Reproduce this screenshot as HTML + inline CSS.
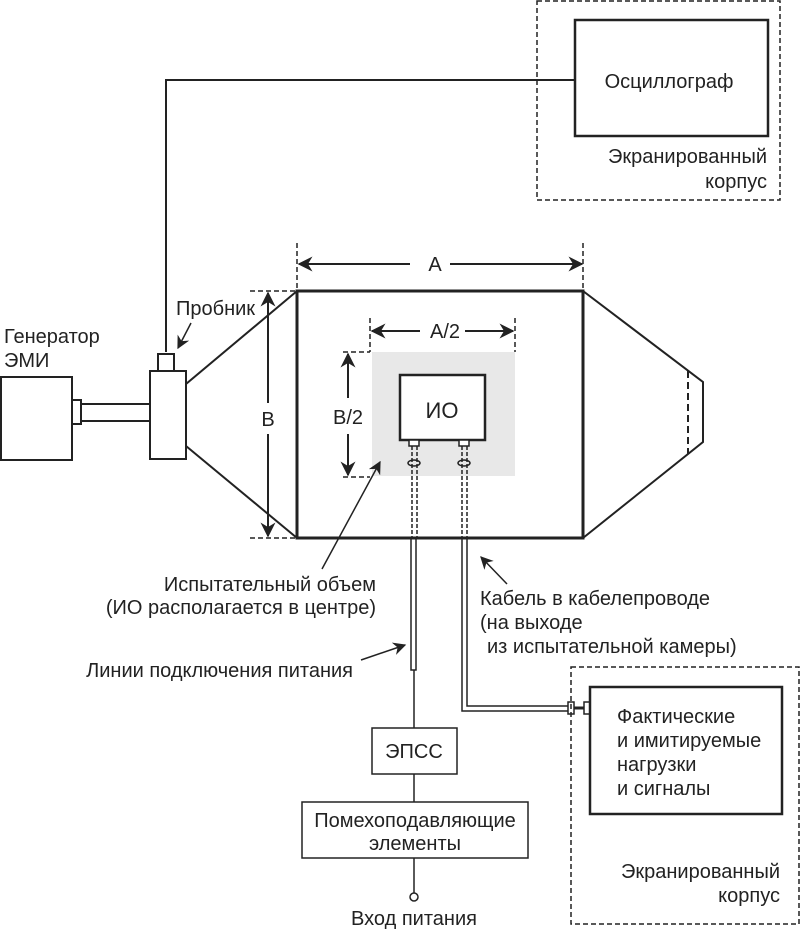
<!DOCTYPE html>
<html><head><meta charset="utf-8"><style>
html,body{margin:0;padding:0;background:#fff;}
svg{display:block;}
text{font-family:"Liberation Sans",sans-serif;font-size:20px;fill:#222;}
</style></head><body>
<svg width="800" height="929" viewBox="0 0 800 929" xmlns="http://www.w3.org/2000/svg">
<defs>
<marker id="ar" viewBox="0 0 10 10" refX="9" refY="5" markerWidth="13" markerHeight="13" orient="auto-start-reverse" markerUnits="userSpaceOnUse">
<path d="M0,0 L10,5 L0,10 L3,5 z" fill="#222"/></marker>
<marker id="ar2" viewBox="0 0 10 10" refX="9" refY="5" markerWidth="15" markerHeight="15" orient="auto-start-reverse" markerUnits="userSpaceOnUse">
<path d="M0,0 L10,5 L0,10 L3,5 z" fill="#222"/></marker>
</defs>
<g stroke="#222" fill="none" stroke-width="2">
<rect x="537" y="1" width="243" height="199" stroke-dasharray="5,3" stroke-width="1.5"/>
<rect x="575" y="20" width="193" height="116" stroke-width="2.5"/>
<polyline points="166,352 166,80 575,80"/>
<rect x="1" y="377" width="71" height="83"/>
<rect x="72" y="400" width="9" height="24"/>
<rect x="81" y="404" width="69" height="17"/>
<rect x="150" y="371" width="36" height="88"/>
<rect x="158" y="354" width="16" height="17"/>
<line x1="186" y1="384" x2="297" y2="291"/>
<line x1="186" y1="446" x2="297" y2="538"/>
<rect x="297" y="291" width="286" height="247" stroke-width="3"/>
<polyline points="583,291 703,382 703,442 583,538"/>
<line x1="688" y1="371" x2="688" y2="454" stroke-dasharray="7,4"/>
<g stroke-width="1.5" stroke-dasharray="5,3">
<line x1="297" y1="243" x2="297" y2="291"/>
<line x1="583" y1="243" x2="583" y2="291"/>
<line x1="250" y1="291" x2="297" y2="291"/>
<line x1="250" y1="538" x2="297" y2="538"/>
<line x1="370" y1="318" x2="370" y2="352"/>
<line x1="515" y1="318" x2="515" y2="352"/>
<line x1="343" y1="352" x2="370" y2="352"/>
<line x1="343" y1="477" x2="370" y2="477"/>
</g>
</g>
<rect x="372" y="352" width="143" height="124" fill="#e8e8e8"/>
<g stroke="#222" fill="none" stroke-width="2">
<line x1="299" y1="264" x2="410" y2="264" marker-start="url(#ar2)"/>
<line x1="450" y1="264" x2="582" y2="264" marker-end="url(#ar2)"/>
<line x1="268" y1="293" x2="268" y2="403" marker-start="url(#ar2)"/>
<line x1="268" y1="434" x2="268" y2="536" marker-end="url(#ar2)"/>
<line x1="372" y1="331" x2="420" y2="331" marker-start="url(#ar2)"/>
<line x1="465" y1="331" x2="513" y2="331" marker-end="url(#ar2)"/>
<line x1="348" y1="354" x2="348" y2="398" marker-start="url(#ar2)"/>
<line x1="348" y1="434" x2="348" y2="475" marker-end="url(#ar2)"/>
<rect x="400" y="375" width="85" height="65" fill="#fff" stroke-width="2.5"/>
<rect x="409" y="440" width="10" height="6" fill="#fff" stroke-width="1.5"/>
<rect x="459" y="440" width="10" height="6" fill="#fff" stroke-width="1.5"/>
<g stroke-width="1.5" stroke-dasharray="4,2">
<line x1="412" y1="446" x2="412" y2="538"/><line x1="417" y1="446" x2="417" y2="538"/>
<line x1="462" y1="446" x2="462" y2="538"/><line x1="467" y1="446" x2="467" y2="538"/>
</g>
<ellipse cx="414" cy="463" rx="6" ry="3" stroke-width="1.5"/>
<ellipse cx="464" cy="463" rx="6" ry="3" stroke-width="1.5"/>
<rect x="411" y="538" width="5" height="132" stroke-width="1.5"/>
<line x1="414" y1="670" x2="414" y2="728" stroke-width="1.5"/>
<rect x="372" y="728" width="85" height="46" stroke-width="1.5"/>
<line x1="414" y1="774" x2="414" y2="802" stroke-width="1.5"/>
<rect x="302" y="802" width="226" height="56" stroke-width="1.5"/>
<line x1="414" y1="858" x2="414" y2="893" stroke-width="1.5"/>
<circle cx="414" cy="897" r="4" stroke-width="1.5"/>
<polyline points="462,538 462,711 570,711" stroke-width="1.5"/>
<polyline points="467,538 467,706 570,706" stroke-width="1.5"/>
<rect x="568" y="702" width="6" height="12" stroke-width="1.5" fill="#fff"/>
<line x1="574" y1="708" x2="584" y2="708" stroke-width="3"/>
<rect x="584" y="702" width="6" height="12" stroke-width="1.5" fill="#fff"/>
<rect x="571" y="667" width="228" height="257" stroke-dasharray="5,3" stroke-width="1.5"/>
<rect x="590" y="687" width="192" height="127" stroke-width="2.5" fill="#fff"/>
<line x1="191" y1="323" x2="178" y2="348" stroke-width="1.5" marker-end="url(#ar)"/>
<line x1="322" y1="569" x2="380" y2="462" stroke-width="1.5" marker-end="url(#ar)"/>
<line x1="361" y1="660" x2="405" y2="645" stroke-width="1.5" marker-end="url(#ar)"/>
<line x1="507" y1="584" x2="481" y2="557" stroke-width="1.5" marker-end="url(#ar)"/>
</g>
<text x="435" y="271" text-anchor="middle">A</text>
<text x="268" y="426" text-anchor="middle">B</text>
<text x="445" y="338" text-anchor="middle">A/2</text>
<text x="348" y="424" text-anchor="middle">B/2</text>
<text x="442" y="418" text-anchor="middle" style="font-size:22px">ИО</text>
<text x="669" y="88" text-anchor="middle">Осциллограф</text>
<text x="767" y="163" text-anchor="end">Экранированный</text>
<text x="767" y="188" text-anchor="end">корпус</text>
<text x="176" y="315">Пробник</text>
<text x="4" y="343">Генератор</text>
<text x="4" y="367">ЭМИ</text>
<text x="376" y="591" text-anchor="end">Испытательный объем</text>
<text x="376" y="614" text-anchor="end">(ИО располагается в центре)</text>
<text x="353" y="677" text-anchor="end">Линии подключения питания</text>
<text x="480" y="605">Кабель в кабелепроводе</text>
<text x="480" y="629">(на выходе</text>
<text x="487" y="653">из испытательной камеры)</text>
<text x="414" y="758" text-anchor="middle">ЭПСС</text>
<text x="415" y="827" text-anchor="middle">Помехоподавляющие</text>
<text x="415" y="850" text-anchor="middle">элементы</text>
<text x="414" y="925" text-anchor="middle">Вход питания</text>
<text x="617" y="723">Фактические</text>
<text x="617" y="747">и имитируемые</text>
<text x="617" y="771">нагрузки</text>
<text x="617" y="795">и сигналы</text>
<text x="780" y="878" text-anchor="end">Экранированный</text>
<text x="780" y="902" text-anchor="end">корпус</text>
</svg>
</body></html>
